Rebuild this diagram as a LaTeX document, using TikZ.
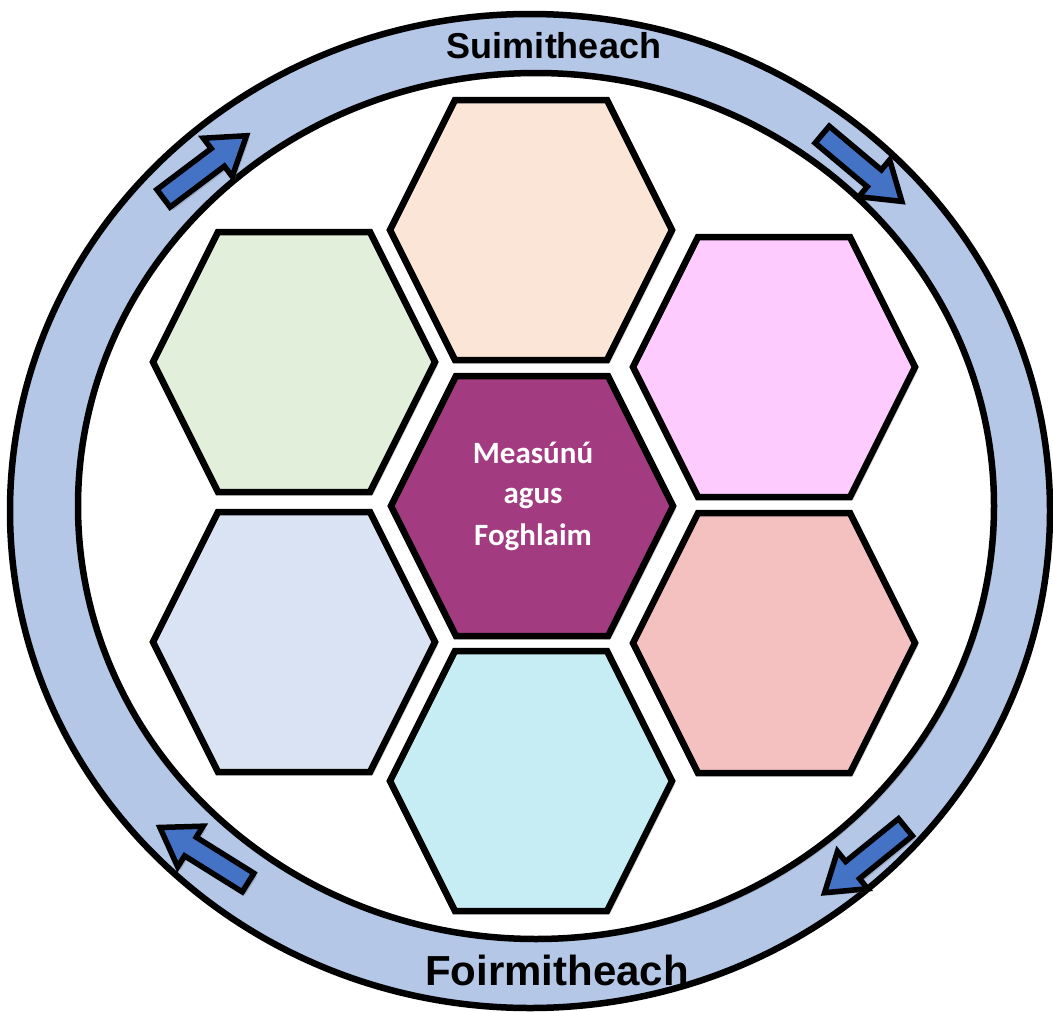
\documentclass[tikz,border=0pt]{standalone}
\usepackage{fontspec}
\setmainfont{Liberation Sans}
\newfontfamily\calib{Carlito}
\usetikzlibrary{calc,shadows}
\definecolor{ringblue}{HTML}{B4C7E7}
\definecolor{arrowblue}{HTML}{4472C4}
\definecolor{hexpeach}{HTML}{FBE5D6}
\definecolor{hexgreen}{HTML}{E2EFDA}
\definecolor{hexpink}{HTML}{FDCBFD}
\definecolor{hexblue}{HTML}{DAE3F3}
\definecolor{hexrose}{HTML}{F5C0C0}
\definecolor{hexcyan}{HTML}{C7EDF4}
\definecolor{hexplum}{HTML}{A23B7F}
\newcommand\hexa[4]{%
  \coordinate (#1) at (#2,#3);
  \draw[hexline, fill=#4] ($(#1)+(-141,0)$) -- ($(#1)+(-76,-130)$) -- ($(#1)+(76,-130)$)
    -- ($(#1)+(141,0)$) -- ($(#1)+(76,130)$) -- ($(#1)+(-76,130)$) -- cycle;}
\tikzset{
  softshadow/.style={drop shadow={shadow xshift=3pt, shadow yshift=-3pt, opacity=0.3, fill=black!60}},
  hexline/.style={line width=6.5pt, draw=black, line join=miter, softshadow},
  ringline/.style={line width=6.5pt, draw=black},
  ringlabel/.style={font=\bfseries, anchor=base, inner sep=0pt},
  centerlabel/.style={font=\calib\bfseries\fontsize{31}{41}\selectfont, text=white, anchor=base, inner sep=0pt},
  pics/blockarrow/.style={code={
    \draw[line width=5.5pt, fill=arrowblue, line join=miter, softshadow]
      (-52,-11) -- (16,-11) -- (16,-24) -- (52,0) -- (16,24) -- (16,11) -- (-52,11) -- cycle;}}
}
\begin{document}
\begin{tikzpicture}[x=1pt,y=-1pt]
\useasboundingbox (0,0) rectangle (1053,1012);
\coordinate (oc) at (530,511);
\coordinate (ic) at (536,506);
\fill[ringblue, even odd rule] (oc) ellipse [x radius=520, y radius=497] (ic) ellipse [x radius=458, y radius=433];
\draw[ringline] (oc) ellipse [x radius=520, y radius=497];
\draw[ringline, fill=white, softshadow] (ic) ellipse [x radius=458, y radius=433];

\hexa{hT}{531}{230}{hexpeach}
\hexa{hUL}{294}{362}{hexgreen}
\hexa{hUR}{774}{367}{hexpink}
\hexa{hLL}{294}{642}{hexblue}
\hexa{hLR}{774}{643}{hexrose}
\hexa{hB}{531}{781}{hexcyan}
\hexa{hC}{532}{506}{hexplum}

\node[centerlabel] (c1) at (533,463) {Measúnú};
\node[centerlabel] (c2) at (533,503) {agus};
\node[centerlabel] (c3) at (533,545) {Foghlaim};

\node[ringlabel, font=\bfseries\fontsize{36}{40}\selectfont] (top) at (554,58) {Suimitheach};
\pic[rotate=37] (aUL) at (205,167) {blockarrow};
\pic[rotate=-40] (aUR) at (862,168) {blockarrow};
\pic[rotate=219] (aLR) at (865,860) {blockarrow};
\pic[rotate=148] (aLL) at (204,855) {blockarrow};
\node[ringlabel, font=\bfseries\fontsize{42}{46}\selectfont] (bot) at (557,985) {Foirmitheach};
\end{tikzpicture}
\end{document}
